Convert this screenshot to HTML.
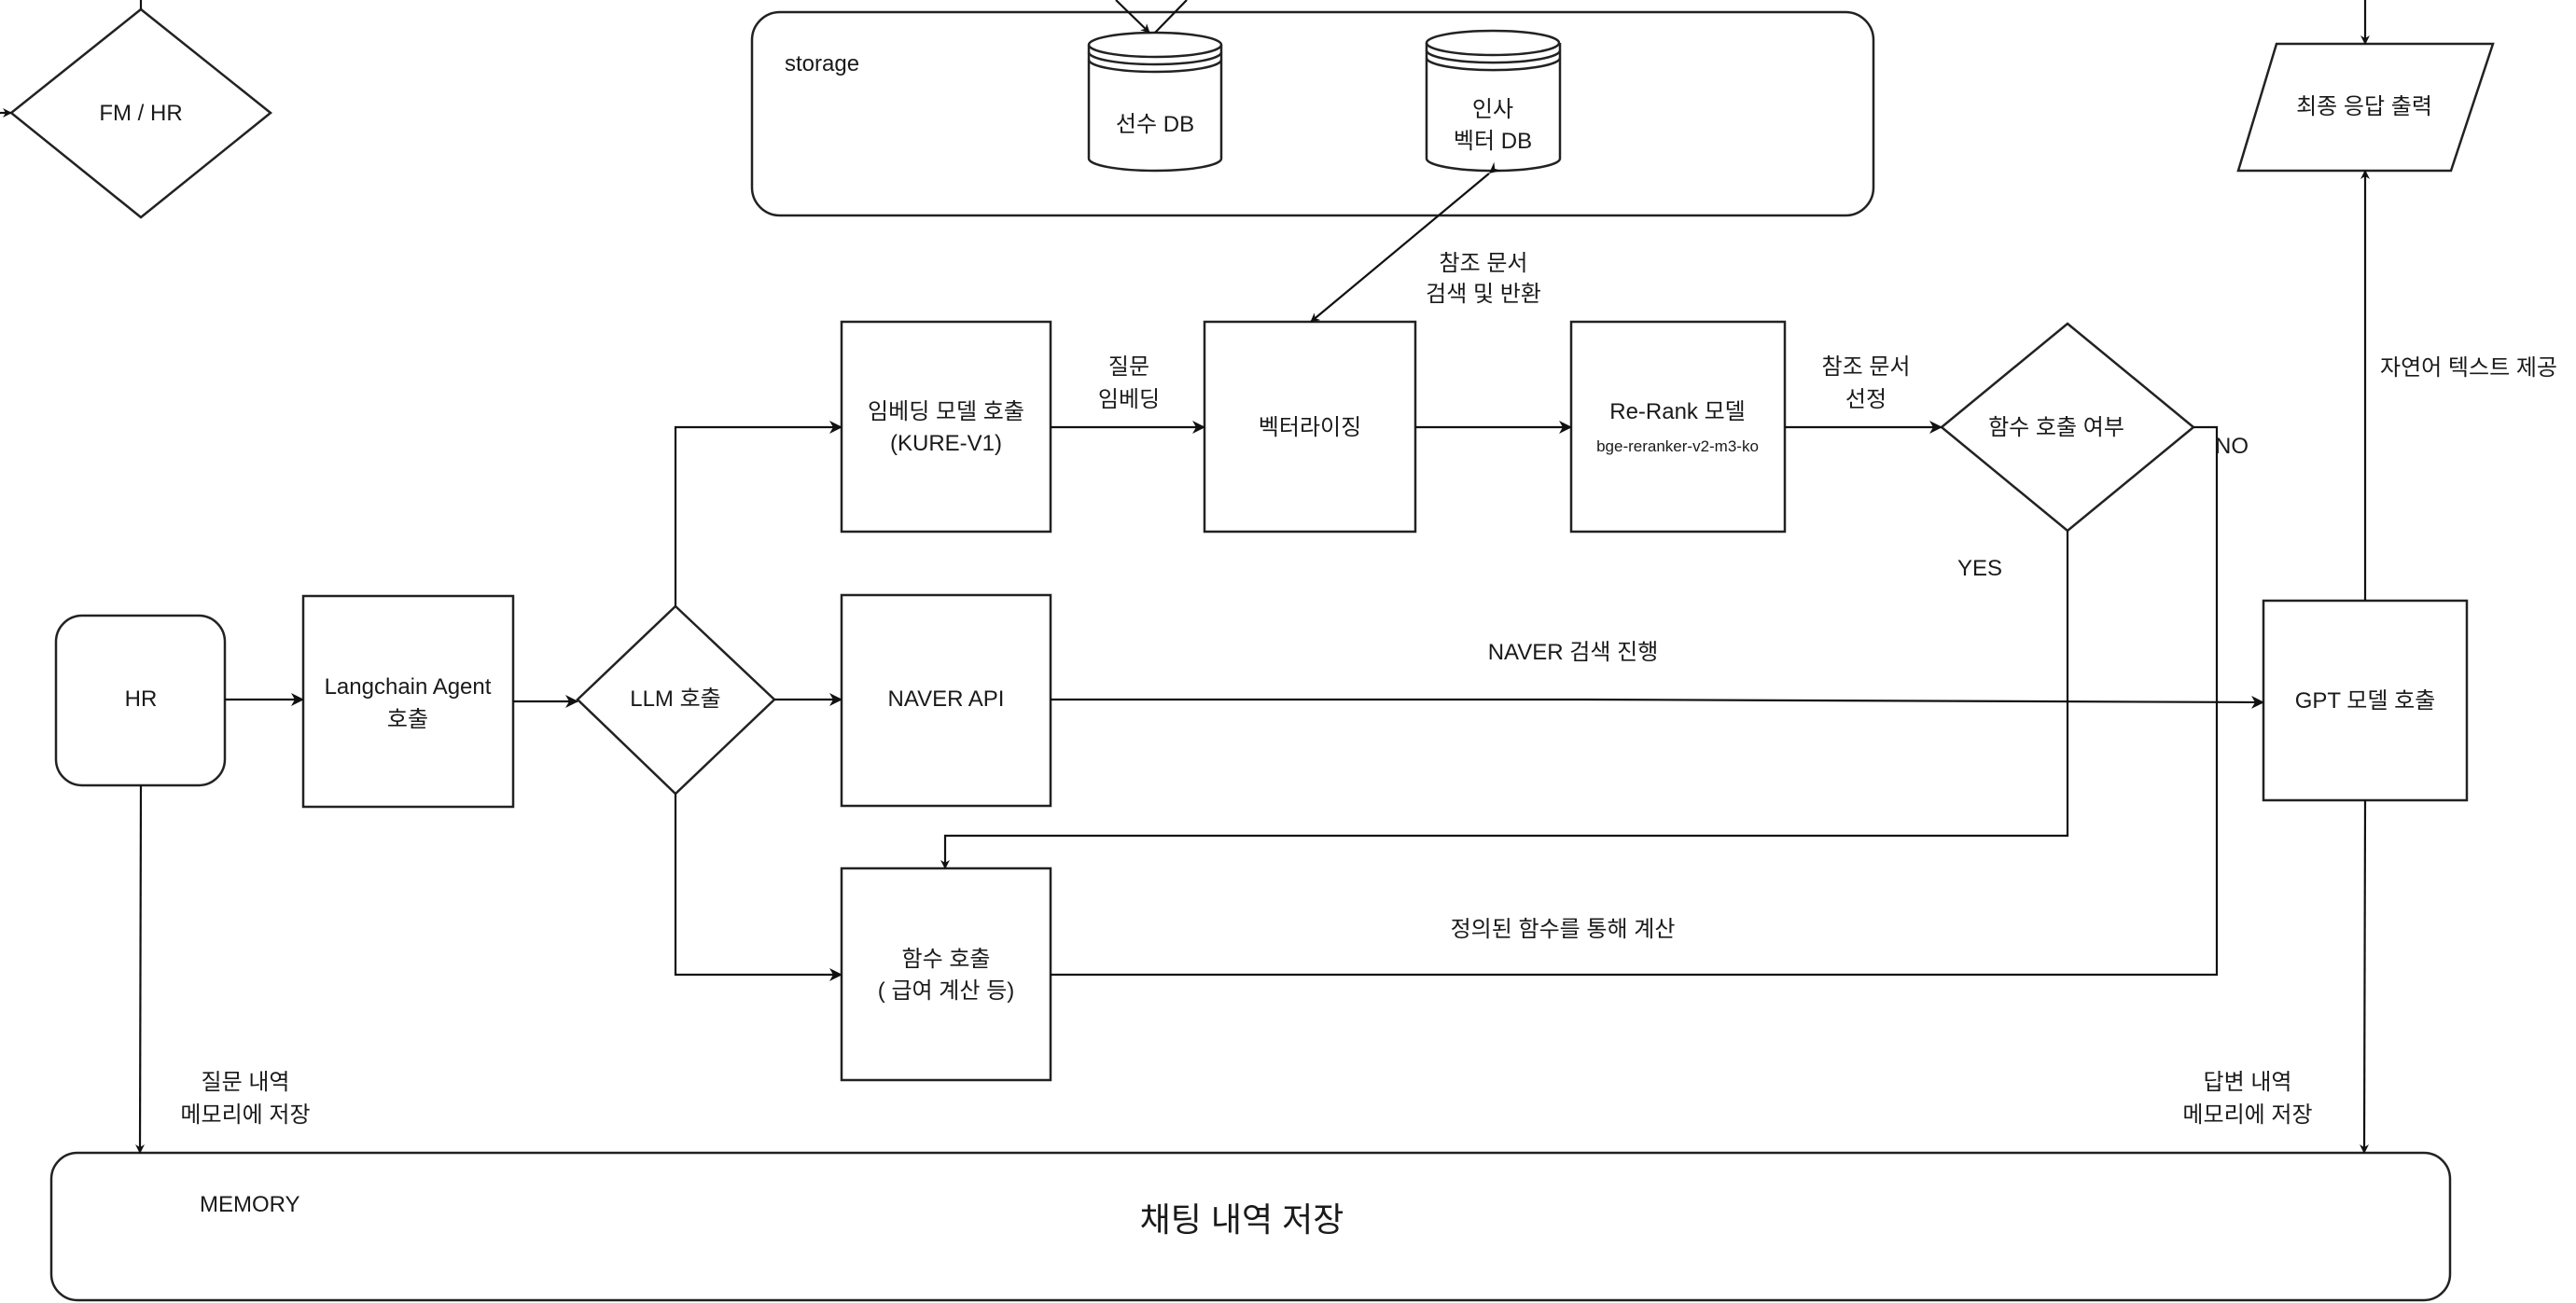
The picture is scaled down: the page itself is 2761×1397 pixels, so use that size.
<!DOCTYPE html>
<html><head><meta charset="utf-8"><style>
html,body{margin:0;padding:0;background:#fff;}
svg{display:block;}
text{font-family:"Liberation Sans","Noto Sans CJK KR",sans-serif;font-size:24px;fill:#1a1a1a;}
</style></head><body>
<svg width="2761" height="1397" viewBox="0 0 2761 1397" xmlns="http://www.w3.org/2000/svg">
<defs>
<marker id="a" markerWidth="10" markerHeight="10" refX="9" refY="5" orient="auto" markerUnits="userSpaceOnUse">
<path d="M0,0 L10,5 L0,10 L3,5 z" fill="#111"/></marker>
<marker id="as" markerWidth="12" markerHeight="12" refX="0" refY="6" orient="auto-start-reverse" markerUnits="userSpaceOnUse">
<path d="M12,0 L0,6 L12,12 L8,6 z" fill="#111"/></marker>
<marker id="b" markerWidth="14" markerHeight="14" refX="13" refY="7" orient="auto" markerUnits="userSpaceOnUse">
<path d="M0,0 L14,7 L0,14 L4,7 z" fill="#111"/></marker>
</defs>
<g fill="none" stroke="#222" stroke-width="2.5">
<!-- storage -->
<rect x="806" y="13" width="1202" height="218" rx="30"/>
<!-- 선수 DB cylinder -->
<path d="M1167,48 L1167,170 A71,13 0 0 0 1309,170 L1309,48"/>
<ellipse cx="1238" cy="48" rx="71" ry="13"/>
<path d="M1167,56 A71,13 0 0 0 1309,56 M1167,64 A71,13 0 0 0 1309,64"/>
<!-- 인사 DB -->
<path d="M1529,46 L1529,170 A71,13 0 0 0 1672,170 L1672,46"/>
<ellipse cx="1600" cy="46" rx="71" ry="13"/>
<path d="M1529,54 A71,13 0 0 0 1672,54 M1529,62 A71,13 0 0 0 1672,62"/>
<!-- FM/HR diamond -->
<polygon points="151,10 290,121 151,233 12,121"/>
<!-- boxes -->
<rect x="902" y="345" width="224" height="225"/>
<rect x="1291" y="345" width="226" height="225"/>
<rect x="1684" y="345" width="229" height="225"/>
<polygon points="2216,347 2351,458 2216,569 2081,458"/>
<polygon points="2440,47 2672,47 2627,183 2399,183"/>
<rect x="2426" y="644" width="218" height="214"/>
<rect x="60" y="660" width="181" height="182" rx="28"/>
<rect x="325" y="639" width="225" height="226"/>
<polygon points="724,650 830,750 724,851 619,750"/>
<rect x="902" y="638" width="224" height="226"/>
<rect x="902" y="931" width="224" height="227"/>
<rect x="55" y="1236" width="2571" height="158" rx="28"/>
</g>
<g fill="none" stroke="#111" stroke-width="2.2">
<line x1="151" y1="0" x2="151" y2="10"/>
<line x1="0" y1="121" x2="12" y2="121" marker-end="url(#a)"/>
<line x1="1196" y1="0" x2="1232" y2="35" marker-end="url(#a)"/>
<line x1="1272" y1="0" x2="1238" y2="35"/>
<line x1="1596" y1="186" x2="1405" y2="345" marker-start="url(#as)" marker-end="url(#a)"/>
<line x1="1126" y1="458" x2="1291" y2="458" marker-end="url(#b)"/>
<line x1="1517" y1="458" x2="1684" y2="458" marker-end="url(#b)"/>
<line x1="1913" y1="458" x2="2081" y2="458" marker-end="url(#b)"/>
<polyline points="2216,569 2216,896 1013,896 1013,931" marker-end="url(#a)"/>
<polyline points="2351,458 2376,458 2376,1045 1126,1045"/>
<line x1="2535" y1="0" x2="2535" y2="47" marker-end="url(#a)"/>
<line x1="2535" y1="644" x2="2535" y2="183" marker-end="url(#a)"/>
<line x1="241" y1="750" x2="325" y2="750" marker-end="url(#b)"/>
<line x1="550" y1="752" x2="619" y2="752" marker-end="url(#b)"/>
<line x1="830" y1="750" x2="902" y2="750" marker-end="url(#b)"/>
<polyline points="1126,750 1700,750 2426,753" marker-end="url(#b)"/>
<polyline points="724,650 724,458 902,458" marker-end="url(#b)"/>
<polyline points="724,851 724,1045 902,1045" marker-end="url(#b)"/>
<line x1="151" y1="842" x2="150" y2="1236" marker-end="url(#a)"/>
<line x1="2535" y1="858" x2="2534" y2="1236" marker-end="url(#a)"/>
</g>
<g text-anchor="middle">
<text x="151" y="129">FM / HR</text>
<text x="1238" y="141">선수 DB</text>
<text x="1600" y="125">인사</text>
<text x="1600" y="159">벡터 DB</text>
<text x="1590" y="290">참조 문서</text>
<text x="1590" y="323">검색 및 반환</text>
<text x="1014" y="449">임베딩 모델 호출</text>
<text x="1014" y="483">(KURE-V1)</text>
<text x="1210" y="401">질문</text>
<text x="1210" y="436">임베딩</text>
<text x="1404" y="466">벡터라이징</text>
<text x="1798" y="449">Re-Rank 모델</text>
<text x="1798" y="484" style="font-size:17px">bge-reranker-v2-m3-ko</text>
<text x="2000" y="401">참조 문서</text>
<text x="2000" y="436">선정</text>
<text x="2204" y="466">함수 호출 여부</text>
<text x="2534" y="122">최종 응답 출력</text>
<text x="2535" y="759">GPT 모델 호출</text>
<text x="151" y="757">HR</text>
<text x="437" y="744">Langchain Agent</text>
<text x="437" y="779">호출</text>
<text x="724" y="757">LLM 호출</text>
<text x="1014" y="757">NAVER API</text>
<text x="1686" y="707">NAVER 검색 진행</text>
<text x="1014" y="1036">함수 호출</text>
<text x="1014" y="1070">( 급여 계산 등)</text>
<text x="1675" y="1004">정의된 함수를 통해 계산</text>
<text x="263" y="1168">질문 내역</text>
<text x="263" y="1203">메모리에 저장</text>
<text x="2409" y="1168">답변 내역</text>
<text x="2409" y="1203">메모리에 저장</text>
<text x="1331" y="1320" style="font-size:36px">채팅 내역 저장</text>
</g>
<text x="841" y="76">storage</text>
<text x="2374" y="486">NO</text>
<text x="2098" y="617">YES</text>
<text x="2551" y="402">자연어 텍스트 제공</text>
<text x="214" y="1299">MEMORY</text>
</svg>
</body></html>
